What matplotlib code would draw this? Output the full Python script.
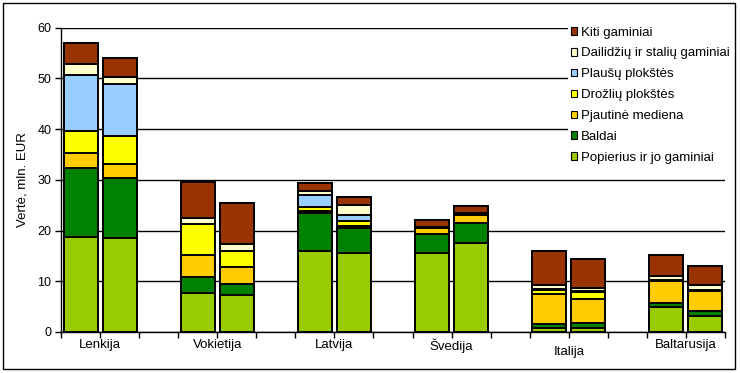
import numpy as np
import matplotlib
matplotlib.use('Agg')
import matplotlib.pyplot as plt
from matplotlib.patches import Patch, Rectangle

plt.rcParams['font.family'] = ['Liberation Sans', 'DejaVu Sans']

countries = ['Lenkija', 'Vokietija', 'Latvija', 'Švedija', 'Italija', 'Baltarusija']
# two bars per country, bottom to top
popierius = [18.7, 18.5, 7.7, 7.2, 16.0, 15.5, 15.6, 17.6, 0.7, 0.85, 4.9, 3.2]
baldai = [13.7, 11.9, 3.1, 2.3, 7.5, 5.0, 3.7, 3.8, 0.9, 0.85, 0.8, 0.9]
pjautine = [2.9, 2.7, 4.4, 3.3, 0.3, 0.4, 1.1, 1.6, 5.8, 4.75, 4.4, 4.05]
drozliu = [4.3, 5.5, 6.0, 3.2, 0.9, 1.0, 0.1, 0.1, 0.9, 1.5, 0.1, 0.1]
plausu = [11.1, 10.2, 0.0, 0.0, 2.2, 1.1, 0.0, 0.0, 0.2, 0.1, 0.1, 0.1]
dailidziu = [2.1, 1.4, 1.3, 1.4, 0.8, 2.1, 0.2, 0.3, 0.8, 0.55, 0.7, 0.9]
kiti = [4.1, 3.7, 7.0, 8.0, 1.6, 1.5, 1.4, 1.5, 6.7, 5.7, 4.1, 3.8]

series = [
    ('Popierius ir jo gaminiai', popierius, '#99CC00'),
    ('Baldai', baldai, '#008000'),
    ('Pjautinė mediena', pjautine, '#FFCC00'),
    ('Drožlių plokštės', drozliu, '#FFFF00'),
    ('Plaušų plokštės', plausu, '#99CCFF'),
    ('Dailidžių ir stalių gaminiai', dailidziu, '#FFFFCC'),
    ('Kiti gaminiai', kiti, '#993300'),
]

fig = plt.figure(figsize=(7.4, 3.73), dpi=100)
W, H = 740, 373
ax = fig.add_axes([61 / W, (H - 332) / H, (725 - 61) / W, (332 - 27.5) / H])

# 3 slots per country: two bars and a gap
pos = np.array([3 * g + b for g in range(len(countries)) for b in range(2)])
bottom = np.zeros(len(pos))
for name, vals, col in series:
    ax.bar(pos, vals, width=0.87, bottom=bottom, color=col,
           edgecolor='black', linewidth=1.4, zorder=3)
    bottom += np.array(vals)

ax.set_xlim(-0.5, 3 * len(countries) - 1 - 0.5)
ax.set_ylim(0, 60)
ax.set_yticks(range(0, 61, 10))
ax.yaxis.grid(True, color='black', linewidth=1.0, zorder=0)
for s in ['top', 'right']:
    ax.spines[s].set_visible(False)
ax.spines['left'].set_linewidth(1.0)
ax.spines['bottom'].set_linewidth(1.0)
ax.set_xticks(np.arange(-0.5, 3 * len(countries) - 1, 1.0))
ax.set_xticklabels([])
ax.tick_params(axis='both', direction='out', length=4, width=1.0, labelsize=9)
ax.tick_params(axis='y', pad=3)

for g, c in enumerate(countries):
    dy = -10 if c == 'Italija' else -5
    ax.annotate(c, xy=(3 * g + 0.5, 0), xycoords=('data', 'axes fraction'),
                xytext=(0, dy), textcoords='offset points',
                ha='center', va='top', fontsize=9.5)

ax.set_ylabel('Vertė, mln. EUR', fontsize=9.5, labelpad=6)

handles = [Patch(facecolor=col, edgecolor='black', linewidth=0.8, label=name)
           for name, vals, col in series[::-1]]
leg = fig.legend(handles=handles, loc='upper left', bbox_to_anchor=(568 / W, 1 - 24 / H),
                 frameon=True, fancybox=False, framealpha=1, edgecolor='none',
                 facecolor='white', fontsize=9.5, handlelength=0.5, handleheight=0.5,
                 handletextpad=0.3, labelspacing=0.67, borderpad=0.2, borderaxespad=0)

fig.patches.append(Rectangle((3 / W, 4 / H), 732 / W, 366 / H, transform=fig.transFigure,
                             fill=False, edgecolor='black', linewidth=1.0))

fig.savefig('out.png', dpi=100)
